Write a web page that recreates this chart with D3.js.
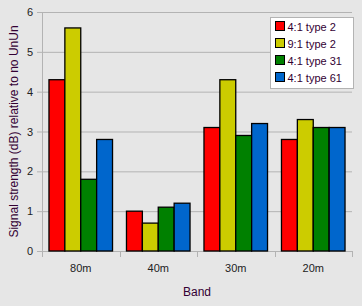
<!DOCTYPE html>
<meta charset='utf-8'>
<style>
  body { margin:0; background:#e6e6e6; }
  text { font-family:'Liberation Sans', Arial, sans-serif; }
  .grid line { stroke:#b3b3b3; }
</style>
<body>
  <script src='https://d3js.org/d3.v7.min.js'></script>
  <script>

    var width = 362;
    var height = 306;

    var bands = ['80m', '40m', '30m', '20m'];
    var seriesNames = ['4:1 type 2', '9:1 type 2', '4:1 type 31', '4:1 type 61'];
    var seriesColors = ['#ff0000', '#cccc00', '#008000', '#0066cc'];
    var type2_41 = [4.3, 1.0, 3.1, 2.8];
    var type2_91 = [5.6, 0.7, 4.3, 3.3];
    var type31_41 = [1.8, 1.1, 2.9, 3.1];
    var type61_41 = [2.8, 1.2, 3.2, 3.1];
    var yTicks = [0, 1, 2, 3, 4, 5, 6];

    var series = [type2_41, type2_91, type31_41, type61_41];

    var margin = {left:42, right:10, top:12, bottom:55};

    var svg = d3.select('body').append('svg')
      .attr('width', width)
      .attr('height', height);

    var x = d3.scaleBand()
      .domain(bands)
      .range([margin.left, width - margin.right])
      .paddingInner(0.18)
      .paddingOuter(0.09);

    var xOuter = d3.scaleBand()
      .domain(bands)
      .range([margin.left, width - margin.right]);

    var xSub = d3.scaleBand()
      .domain(d3.range(series.length))
      .range([0, x.bandwidth()]);

    var y = d3.scaleLinear()
      .domain([0, 6])
      .range([height - margin.bottom, margin.top]);

    // gridlines
    svg.append('g').attr('class', 'grid')
      .selectAll('line')
      .data(yTicks)
      .enter().append('line')
      .attr('x1', margin.left - 5)
      .attr('x2', width - margin.right)
      .attr('y1', d => y(d) + 0.5)
      .attr('y2', d => y(d) + 0.5);

    // y axis line
    svg.append('line')
      .attr('x1', margin.left + 0.5).attr('x2', margin.left + 0.5)
      .attr('y1', y(6)).attr('y2', y(0) + 5)
      .attr('stroke', '#b3b3b3');

    // x ticks
    var xTickPos = bands.map(d => xOuter(d)).concat([width - margin.right]);
    svg.append('g').selectAll('line')
      .data(xTickPos)
      .enter().append('line')
      .attr('x1', d => Math.round(d) + 0.5).attr('x2', d => Math.round(d) + 0.5)
      .attr('y1', y(0)).attr('y2', y(0) + 6)
      .attr('stroke', '#b3b3b3');

    // y tick labels
    svg.append('g').selectAll('text')
      .data(yTicks)
      .enter().append('text')
      .attr('x', 33)
      .attr('y', d => y(d) + 4)
      .attr('text-anchor', 'end')
      .attr('font-size', 11)
      .attr('fill', '#222')
      .text(d => d);

    // x tick labels
    svg.append('g').selectAll('text')
      .data(bands)
      .enter().append('text')
      .attr('x', d => xOuter(d) + xOuter.bandwidth() / 2)
      .attr('y', y(0) + 21)
      .attr('text-anchor', 'middle')
      .attr('font-size', 11)
      .attr('fill', '#222')
      .text(d => d);

    // bars
    series.forEach((vals, i) => {
      svg.append('g').selectAll('rect')
        .data(vals)
        .enter().append('rect')
        .attr('x', (d, j) => x(bands[j]) + xSub(i))
        .attr('y', d => y(d))
        .attr('width', xSub.bandwidth())
        .attr('height', d => y(0) - y(d))
        .attr('fill', seriesColors[i])
        .attr('stroke', '#000')
        .attr('stroke-width', 1.3);
    });

    // axis titles
    svg.append('text')
      .attr('x', (margin.left + width - margin.right) / 2)
      .attr('y', 296)
      .attr('text-anchor', 'middle')
      .attr('font-size', 12)
      .attr('fill', '#330033')
      .text('Band');

    svg.append('text')
      .attr('transform', 'translate(18,' + ((y(0) + y(6)) / 2) + ') rotate(-90)')
      .attr('text-anchor', 'middle')
      .attr('font-size', 12)
      .attr('fill', '#330033')
      .text('Signal strength  (dB) relative to no UnUn');

    // legend
    var legend = svg.append('g').attr('transform', 'translate(270.5,17.5)');
    legend.append('rect')
      .attr('width', 83).attr('height', 71)
      .attr('fill', '#fff')
      .attr('stroke', '#b3b3b3');
    seriesNames.forEach((name, i) => {
      legend.append('rect')
        .attr('x', 5).attr('y', 4 + i * 17)
        .attr('width', 9).attr('height', 9)
        .attr('fill', seriesColors[i])
        .attr('stroke', '#000');
      legend.append('text')
        .attr('x', 17).attr('y', 13 + i * 17)
        .attr('font-size', 11)
        .attr('fill', '#330033')
        .text(name);
    });
  </script>
</body>
